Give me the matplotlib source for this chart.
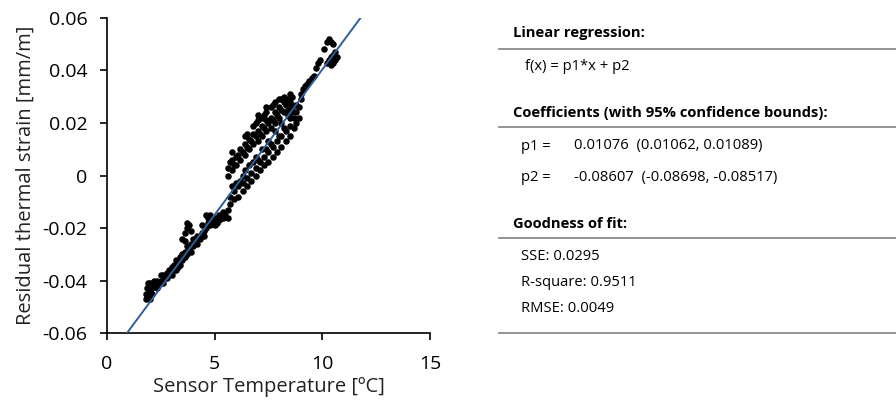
import numpy as np
import matplotlib
matplotlib.use("Agg")
import matplotlib.pyplot as plt
from matplotlib.lines import Line2D

plt.rcParams['font.family'] = ['Open Sans', 'DejaVu Sans']

temp_low = [1.8, 1.8, 1.85, 1.9, 1.95, 2.0, 2.0, 2.1, 2.1, 2.2, 2.2, 2.3, 2.4, 2.5, 2.6, 2.6, 2.7, 2.8, 2.9, 3.0, 3.0,
            3.1, 3.2, 3.2, 3.3, 3.4, 3.4, 3.5, 3.5, 3.6, 3.7, 3.7, 3.8, 3.9, 4.0, 4.0, 4.1, 4.2, 4.3, 4.4, 4.5, 4.5,
            1.9, 2.0, 2.3, 2.5, 2.8, 3.1, 3.3, 3.6, 3.9, 4.2]
strain_low = [-0.047, -0.045, -0.043, -0.046, -0.042, -0.044, -0.041, -0.045, -0.043, -0.042, -0.040, -0.043,
              -0.041, -0.040, -0.038, -0.041, -0.039, -0.037, -0.036, -0.035, -0.038,
              -0.034, -0.036, -0.032, -0.033, -0.031, -0.034, -0.030, -0.032, -0.029, -0.030, -0.027, -0.028,
              -0.026, -0.027, -0.024, -0.025, -0.023, -0.024, -0.022, -0.021, -0.023,
              -0.041, -0.047, -0.040, -0.038, -0.039, -0.036, -0.035, -0.031, -0.029, -0.026]

temp_bump = [3.5, 3.6, 3.7, 3.8, 3.9, 3.6, 3.7, 4.6, 4.7, 4.8, 4.9, 5.0, 5.1, 5.2, 5.3, 5.4, 5.5, 5.6, 5.6, 4.6, 4.7,
             4.4, 4.8, 5.0, 5.2, 5.4]
strain_bump = [-0.024, -0.022, -0.020, -0.019, -0.021, -0.025, -0.018, -0.020, -0.018, -0.019, -0.017, -0.016,
               -0.018, -0.015, -0.016, -0.014, -0.015, -0.016, -0.013, -0.015, -0.016,
               -0.019, -0.015, -0.019, -0.017, -0.016]

temp_upper = [5.6, 5.6, 5.8, 5.8, 5.8, 6.0, 6.0, 6.2, 6.2, 6.4, 6.4, 6.4, 6.6, 6.6, 6.8, 6.8, 6.8,
              7.0, 7.0, 7.0, 7.2, 7.2, 7.2, 7.4, 7.4, 7.4, 7.6, 7.6, 7.6, 7.8, 7.8,
              8.0, 8.0, 8.0, 8.2, 8.2, 8.4, 8.4, 8.6, 8.6,
              5.7, 5.9, 6.1, 6.3, 6.5, 6.7, 6.9, 7.1, 7.3, 7.5, 7.7, 7.9, 8.1, 8.3, 8.5,
              6.5, 6.9, 7.3, 7.7, 8.1, 8.5, 7.0, 7.4, 7.8, 8.2]
strain_upper = [0.000, 0.003, 0.002, 0.006, 0.009, 0.004, 0.007, 0.006, 0.010, 0.008, 0.012, 0.015,
                0.010, 0.014, 0.012, 0.016, 0.019, 0.013, 0.017, 0.021, 0.015, 0.019, 0.022,
                0.017, 0.021, 0.024, 0.018, 0.022, 0.026, 0.020, 0.024, 0.022, 0.026, 0.029,
                0.024, 0.028, 0.025, 0.029, 0.027, 0.030,
                0.005, 0.004, 0.008, 0.009, 0.011, 0.013, 0.015, 0.016, 0.018, 0.020, 0.021, 0.023,
                0.025, 0.027, 0.028,
                0.016, 0.020, 0.023, 0.027, 0.029, 0.031, 0.023, 0.026, 0.028, 0.030]

temp_lower = [5.7, 5.7, 5.9, 5.9, 6.1, 6.1, 6.3, 6.3, 6.5, 6.5, 6.7, 6.7, 6.9, 6.9, 7.1, 7.1, 7.3, 7.3,
              7.5, 7.5, 7.7, 7.7, 7.9, 7.9, 8.1, 8.1, 8.3, 8.3, 8.5, 8.5, 8.5, 8.7, 8.7, 8.8, 8.8,
              6.0, 6.3, 6.6, 6.9, 7.2, 7.5, 7.8, 8.1, 8.4,
              5.8, 6.2, 6.4, 6.8, 7.0, 7.4, 7.6, 8.0, 8.2, 8.6, 8.9, 8.9]
strain_lower = [-0.011, -0.008, -0.009, -0.006, -0.008, -0.004, -0.006, -0.003, -0.004, -0.001,
                -0.002, 0.001, 0.000, 0.003, 0.002, 0.005, 0.004, 0.007, 0.005, 0.009, 0.007, 0.011,
                0.009, 0.013, 0.011, 0.015, 0.013, 0.017, 0.015, 0.019, 0.022, 0.018, 0.022, 0.020, 0.024,
                -0.003, 0.000, 0.004, 0.007, 0.010, 0.013, 0.017, 0.020, 0.023,
                -0.004, -0.002, 0.002, 0.005, 0.006, 0.010, 0.012, 0.015, 0.018, 0.024, 0.022, 0.026]

temp_high = [9.0, 9.1, 9.2, 9.3, 9.4, 9.5, 9.6, 9.7, 9.8, 9.9,
             10.2, 10.3, 10.4, 10.5, 10.6, 10.7, 10.5, 10.6, 10.4,
             10.1, 10.2, 10.3, 10.4, 10.5, 8.6, 8.8, 9.0]
strain_high = [0.031, 0.033, 0.034, 0.035, 0.036, 0.037, 0.038, 0.041, 0.043, 0.044,
               0.043, 0.044, 0.045, 0.046, 0.044, 0.045, 0.043, 0.047, 0.042,
               0.048, 0.051, 0.052, 0.051, 0.050, 0.026, 0.027, 0.029]

# regression line as drawn
line_slope = 0.01107
line_icpt = -0.0703

xlim = (0, 15)
ylim = (-0.06, 0.06)

fig = plt.figure(figsize=(8.96, 4.09), dpi=100)
ax = fig.add_axes([0.1194, 0.1858, 0.3605, 0.7702])

temp = temp_low + temp_bump + temp_upper + temp_lower + temp_high
strain = strain_low + strain_bump + strain_upper + strain_lower + strain_high
ax.scatter(temp, strain, s=22, color='black', zorder=2, linewidths=0)

yl = np.array(ylim)
ax.plot((yl - line_icpt) / line_slope, yl, color='#2f5f98', lw=1.4, zorder=3)

ax.set_xlim(xlim)
ax.set_ylim(ylim)
ax.set_xticks([0, 5, 10, 15])
ax.set_yticks([-0.06, -0.04, -0.02, 0, 0.02, 0.04, 0.06])
ax.set_yticklabels(['-0.06', '-0.04', '-0.02', '0', '0.02', '0.04', '0.06'])
ax.spines['top'].set_visible(False)
ax.spines['right'].set_visible(False)
for s in ['left', 'bottom']:
    ax.spines[s].set_linewidth(1.2)
ax.tick_params(direction='out', length=5, width=1.2, labelsize=14, colors='black')
ax.tick_params(axis='x', pad=11)
ax.tick_params(axis='y', pad=9)
ax.set_xlabel('Sensor Temperature [ºC]', fontsize=14.5, color='#222222', labelpad=3)
ax.set_ylabel('Residual thermal strain [mm/m]', fontsize=14.5, color='#222222', labelpad=5)


# right-hand fit summary
def px(x, y):
    return x / 896, 1 - y / 409


def rule(y):
    (x0, yy), (x1, _) = px(499, y), px(896, y)
    fig.add_artist(Line2D([x0, x1], [yy, yy], color='#8a8a8a', lw=1.3))


fs = 10.6
fig.text(*px(513, 33), 'Linear regression:', fontsize=fs, fontweight='bold', va='center')
rule(49)
fig.text(*px(525, 67), 'f(x) = p1*x + p2', fontsize=fs, va='center')
fig.text(*px(513, 113), 'Coefficients (with 95% confidence bounds):', fontsize=fs, fontweight='bold', va='center')
rule(127)
fig.text(*px(521, 146), 'p1 =', fontsize=fs, va='center')
fig.text(*px(574, 146), '0.01076  (0.01062, 0.01089)', fontsize=fs, va='center')
fig.text(*px(521, 177), 'p2 =', fontsize=fs, va='center')
fig.text(*px(574, 177), '-0.08607  (-0.08698, -0.08517)', fontsize=fs, va='center')
fig.text(*px(513, 224), 'Goodness of fit:', fontsize=fs, fontweight='bold', va='center')
rule(238)
fig.text(*px(521, 257), 'SSE: 0.0295', fontsize=fs, va='center')
fig.text(*px(521, 283), 'R-square: 0.9511', fontsize=fs, va='center')
fig.text(*px(521, 309), 'RMSE: 0.0049', fontsize=fs, va='center')
rule(333)

fig.savefig('out.png', dpi=100)
